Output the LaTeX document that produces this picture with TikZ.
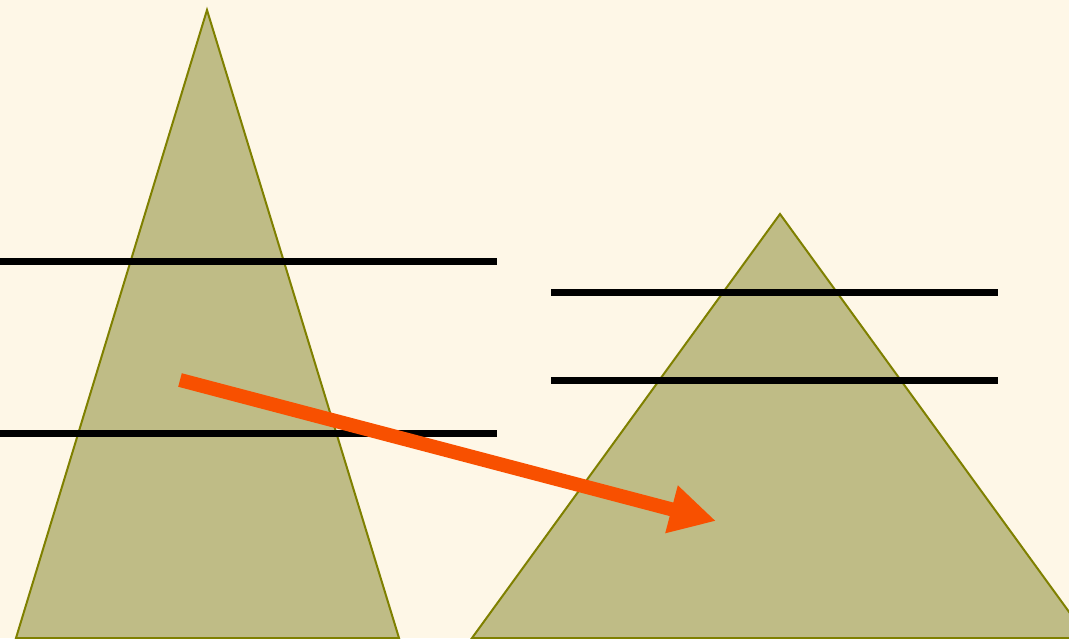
\documentclass[tikz,border=0pt]{standalone}
\usetikzlibrary{arrows.meta}
\definecolor{bgCream}{HTML}{FEF7E7}
\definecolor{hillFill}{HTML}{BFBC86}
\definecolor{hillEdge}{HTML}{7F8000}
\definecolor{mOrange}{HTML}{F85000}
\tikzset{
  hill/.style={fill=hillFill, draw=hillEdge, line width=2pt, line join=miter},
  level/.style={line width=7pt},
}

\begin{document}
\begin{tikzpicture}[x=1pt, y=-1pt]
    \fill[bgCream] (0,0) rectangle (1069,638);
    \useasboundingbox (0,0) rectangle (1069,638);
    \begin{scope}
      \clip (0,0) rectangle (1069,638);
      % tall hill, flat hill
      \draw[hill] (16,638) -- (207,10) -- (399,638) -- cycle;
      \draw[hill] (472,638) -- (780,214) -- (1088,638) -- cycle;
    \end{scope}
    \draw[level] (0,261) -- (497,261);
    \draw[level] (0,433) -- (497,433);
    \draw[level] (551,292) -- (998,292);
    \draw[level] (551,380) -- (998,380);
    \coordinate (from) at (180,380);
    \coordinate (to) at (716,521);
    \draw[mOrange, line width=14pt, -{Triangle[length=46pt, width=46pt]}] (from) -- (to);
  \end{tikzpicture}
\end{document}
